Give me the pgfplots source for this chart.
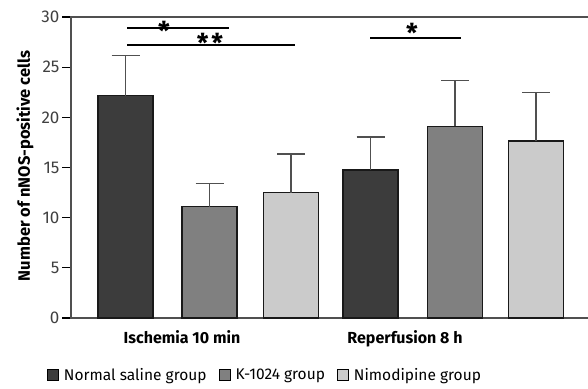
\documentclass[border=0pt]{standalone}
\usepackage{fontspec}
\setmainfont{Fira Sans}
\usepackage{pgfplots}
\pgfplotsset{compat=1.18}
\definecolor{cdark}{HTML}{3C3C3C}
\definecolor{cmid}{HTML}{808080}
\definecolor{clight}{HTML}{CBCBCB}
\definecolor{caxis}{HTML}{505050}
\begin{document}
\begin{tikzpicture}
\path[use as bounding box] (0pt,0pt) rectangle (588pt,388pt);
\clip (0pt,0pt) rectangle (588pt,388pt);
\begin{axis}[
  at={(71pt,70pt)}, anchor=south west,
  width=529pt, height=301pt, scale only axis,
  xmin=71, xmax=600, ymin=0, ymax=30,
  axis line style={caxis, line width=1.4pt},
  ytick={0,5,...,30}, ytick pos=left,
  tick align=outside, major tick length=9pt,
  ytick style={black, line width=1.2pt},
  xtick={182,405}, xticklabels={Ischemia 10 min, Reperfusion 8 h},
  xtick style={draw=none},
  xticklabel style={font=\fontsize{16}{18}\selectfont\bfseries, yshift=0pt},
  yticklabel style={font=\fontsize{17}{19}\selectfont, color=black!75, xshift=1pt},
  /pgf/number format/assume math mode=true,
  ylabel={Number of nNOS-positive cells},
  ylabel style={font=\fontsize{16.5}{18}\selectfont\bfseries, at={(axis description cs:-0.087,0.505)}, anchor=center},
  legend columns=3,
  legend style={at={(axis description cs:0.3667,-0.1894)}, anchor=center, draw=none, fill=none,
    font=\fontsize{15.5}{17}\selectfont, column sep=3pt, inner sep=0pt,
    /tikz/every even column/.append style={column sep=10pt}},
  legend image code/.code={\draw[#1, line width=1pt, draw=black] (0pt,-5.5pt) rectangle (11pt,5.5pt);},
  error bars/y dir=plus, error bars/y explicit,
  error bars/error bar style={caxis, line width=1.3pt},
  error bars/error mark options={caxis, line width=1.3pt, mark size=14pt, rotate=90},
]
\addplot[ybar, bar shift=0pt, bar width=55, fill=cdark, draw=black!90, line width=1.2pt]
  coordinates {(125.5,22.15) +- (0,4.0) (370.5,14.75) +- (0,3.3)};
\addlegendentry{Normal saline group}
\addplot[ybar, bar shift=0pt, bar width=55, fill=cmid, draw=black!90, line width=1.2pt]
  coordinates {(209.5,11.1) +- (0,2.3) (455,19.1) +- (0,4.55)};
\addlegendentry{K-1024 group}
\addplot[ybar, bar shift=0pt, bar width=55, fill=clight, draw=black!90, line width=1.2pt]
  coordinates {(291,12.5) +- (0,3.85) (536,17.65) +- (0,4.8)};
\addlegendentry{Nimodipine group}
\draw[black, line width=1.3pt] (axis cs:127,28.9) -- (axis cs:229,28.9);
\draw[black, line width=1.3pt] (axis cs:127,27.2) -- (axis cs:295,27.2);
\draw[black, line width=1.3pt] (axis cs:370,27.9) -- (axis cs:461,27.9);
\node[anchor=north, inner sep=0pt, font=\fontsize{26}{26}\selectfont\bfseries] at (axis cs:164,29.6) {*};
\node[anchor=north, inner sep=0pt, font=\fontsize{26}{26}\selectfont\bfseries] at (axis cs:210,28.4) {*\kern3pt*};
\node[anchor=north, inner sep=0pt, font=\fontsize{26}{26}\selectfont\bfseries] at (axis cs:412,29.4) {*};
\end{axis}
\end{tikzpicture}
\end{document}
